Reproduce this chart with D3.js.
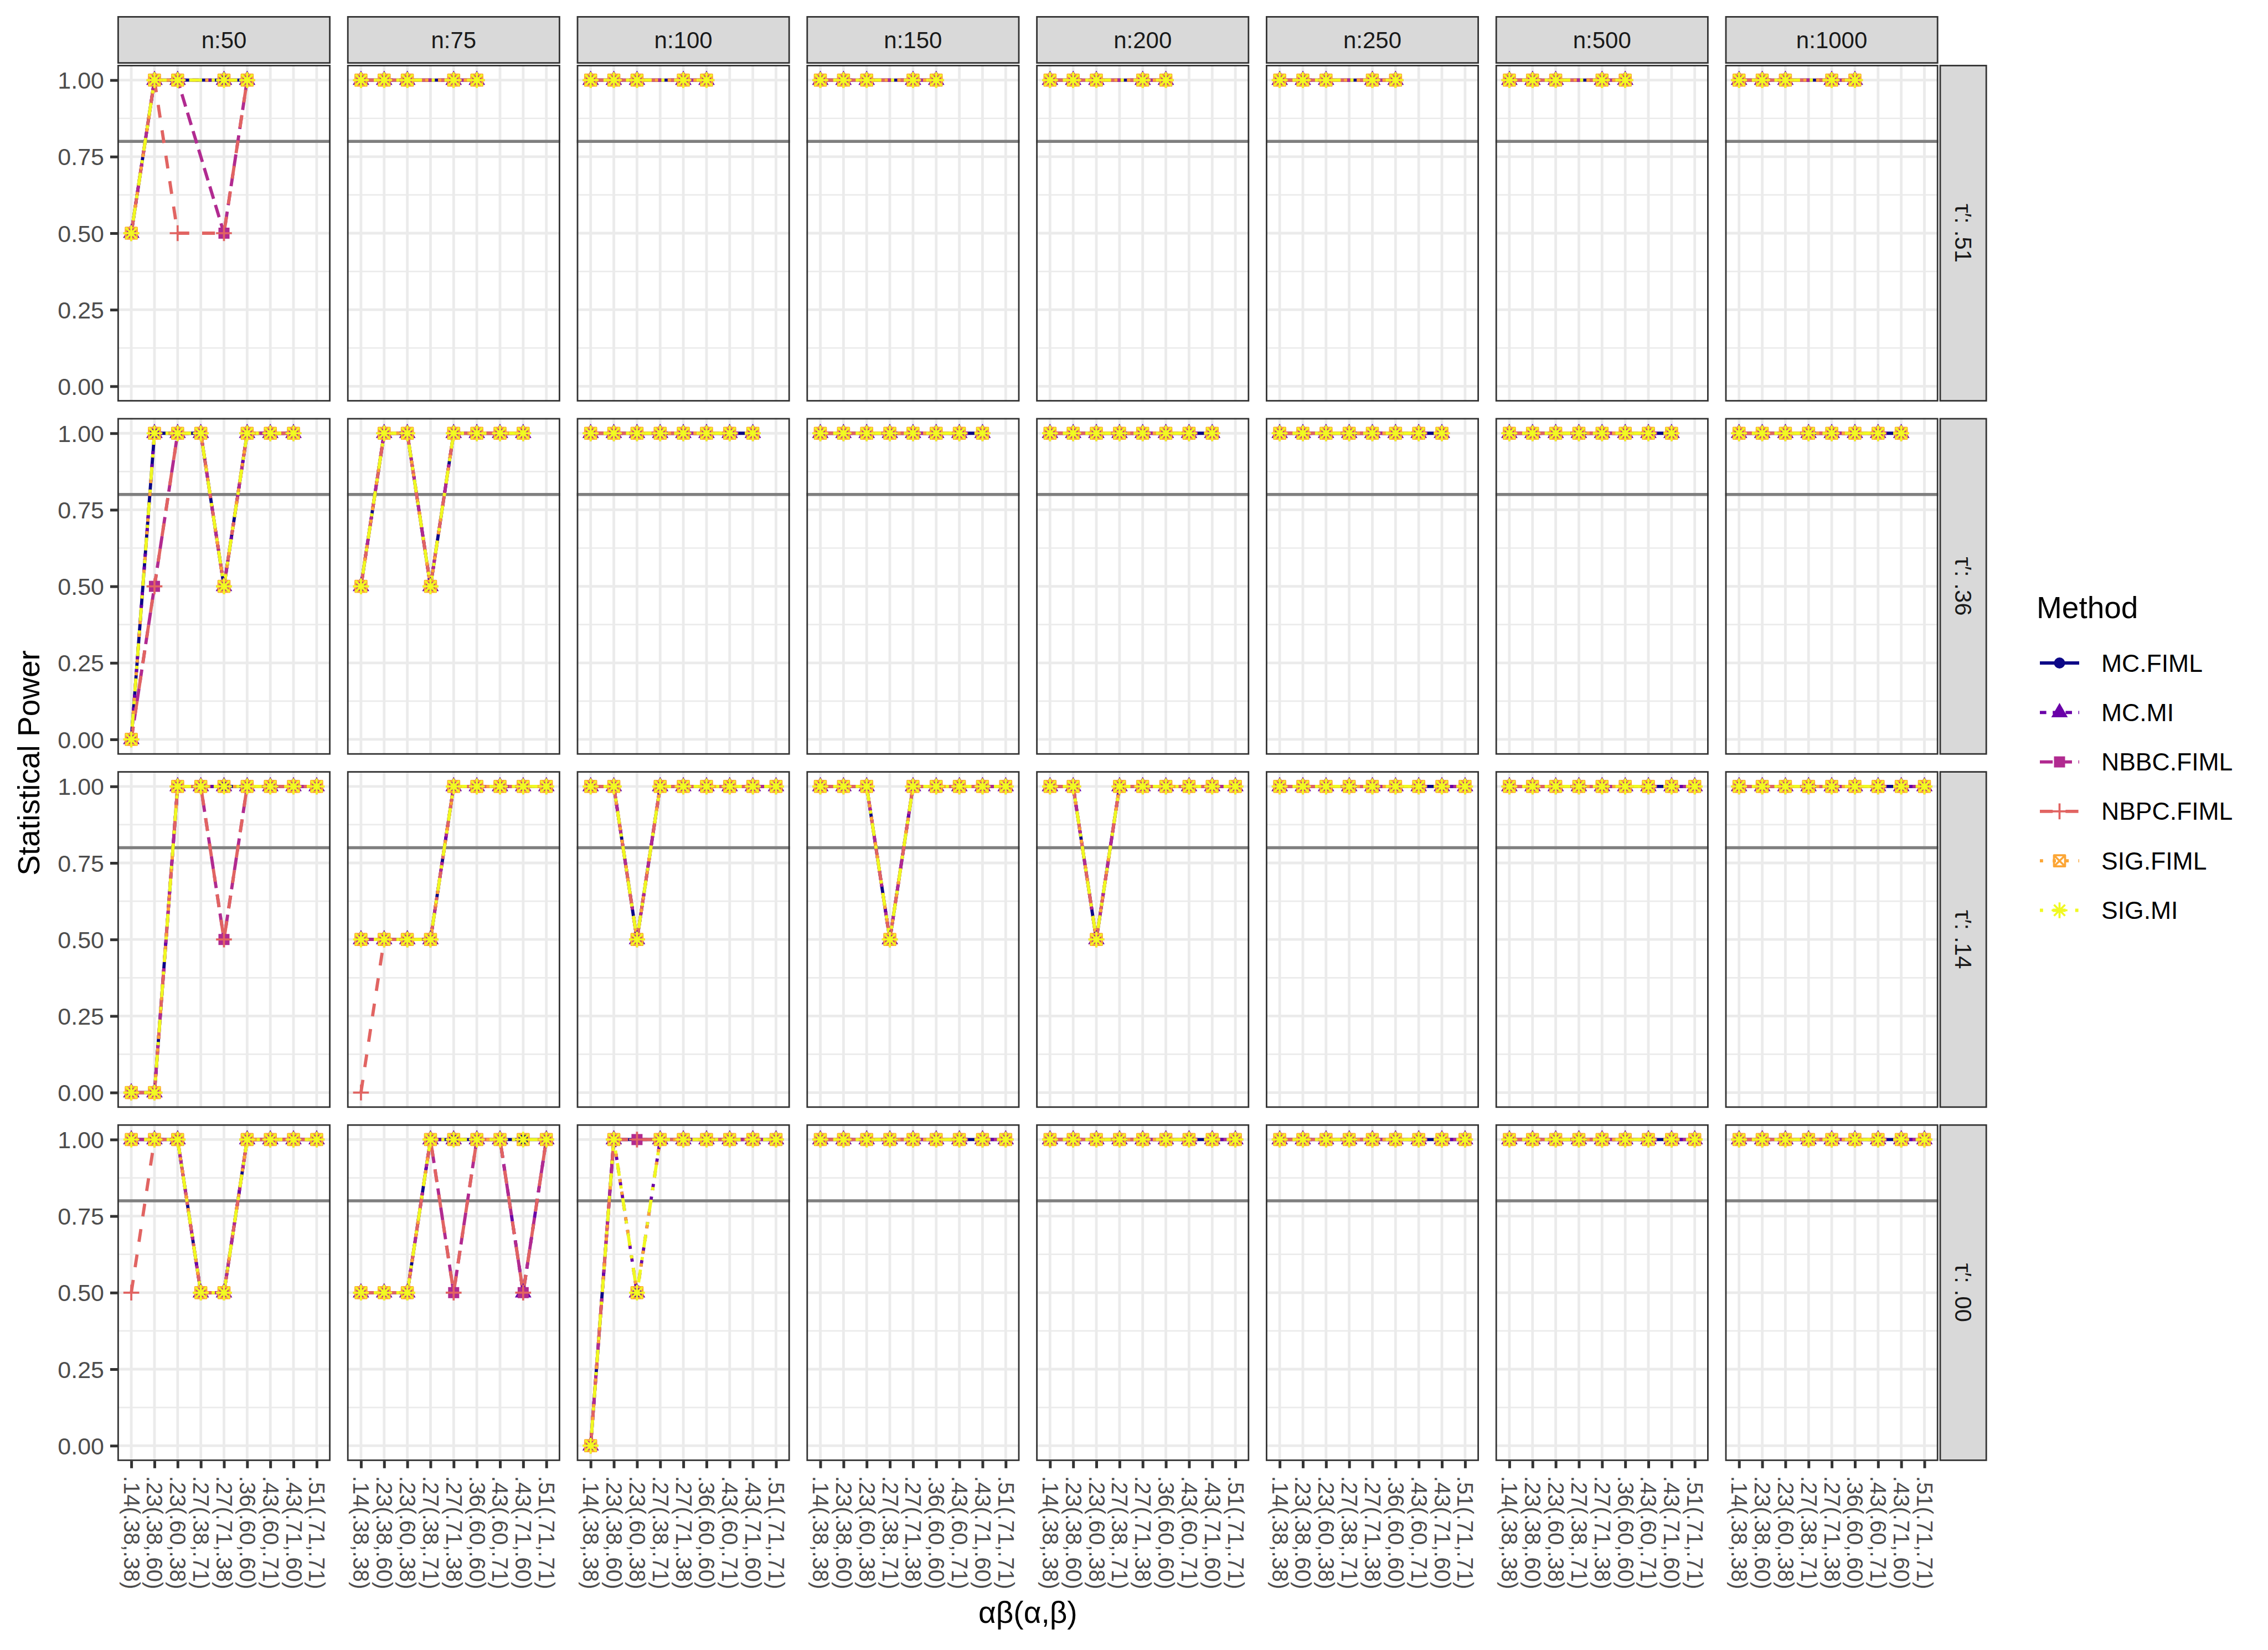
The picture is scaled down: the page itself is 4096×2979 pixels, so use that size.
<!DOCTYPE html>
<html><head><meta charset="utf-8">
<script src="https://cdn.jsdelivr.net/npm/d3@7"></script>
<style>body{margin:0;background:#fff}svg{display:block}text{font-family:"Liberation Sans",Arial,Helvetica,sans-serif}</style>
</head><body>
<script>
// ---------------- data ----------------
const categories = [".14(.38,.38)", ".23(.38,.60)", ".23(.60,.38)", ".27(.38,.71)", ".27(.71,.38)",
                    ".36(.60,.60)", ".43(.60,.71)", ".43(.71,.60)", ".51(.71,.71)"];
const sampleSizes = ["n:50", "n:75", "n:100", "n:150", "n:200", "n:250", "n:500", "n:1000"];
const tauLabels = ["τ′: .51", "τ′: .36", "τ′: .14", "τ′: .00"];
const methods = ["MC.FIML", "MC.MI", "NBBC.FIML", "NBPC.FIML", "SIG.FIML", "SIG.MI"];
const methodColors = ["#0D0887", "#6A00A8", "#B12A90", "#E16462", "#FCA636", "#F0F921"];
const yTicks = [0, 0.25, 0.5, 0.75, 1];
const yMinor = [0.125, 0.375, 0.625, 0.875];
const powerThreshold = 0.8;

// statistical power, one string per τ′ row; one 9-character block per n (n:50 ... n:1000),
// one character per αβ(α,β) category: 1 = 1.00, h = 0.50, 0 = 0.00, - = condition not present
const powerMCFIML = [
  "h11-11--- 111-11--- 111-11--- 111-11--- 111-11--- 111-11--- 111-11--- 111-11---",
  "0111h111- h11h1111- 11111111- 11111111- 11111111- 11111111- 11111111- 11111111-",
  "001111111 hhhh11111 11h111111 111h11111 11h111111 111111111 111111111 111111111",
  "111hh1111 hhh111111 011111111 111111111 111111111 111111111 111111111 111111111"
];
const powerMCMI = [
  "h11-11--- 111-11--- 111-11--- 111-11--- 111-11--- 111-11--- 111-11--- 111-11---",
  "0111h111- h11h1111- 11111111- 11111111- 11111111- 11111111- 11111111- 11111111-",
  "001111111 hhhh11111 11h111111 111h11111 11h111111 111111111 111111111 111111111",
  "111hh1111 hhh1111h1 01h111111 111111111 111111111 111111111 111111111 111111111"
];
const powerNBBCFIML = [
  "h11-h1--- 111-11--- 111-11--- 111-11--- 111-11--- 111-11--- 111-11--- 111-11---",
  "0h11h111- h11h1111- 11111111- 11111111- 11111111- 11111111- 11111111- 11111111-",
  "0011h1111 hhhh11111 11h111111 111h11111 11h111111 111111111 111111111 111111111",
  "111hh1111 hhh1h11h1 011111111 111111111 111111111 111111111 111111111 111111111"
];
const powerNBPCFIML = [
  "h1h-h1--- 111-11--- 111-11--- 111-11--- 111-11--- 111-11--- 111-11--- 111-11---",
  "0h11h111- h11h1111- 11111111- 11111111- 11111111- 11111111- 11111111- 11111111-",
  "0011h1111 0hhh11111 11h111111 111h11111 11h111111 111111111 111111111 111111111",
  "h11hh1111 hhh1h11h1 011111111 111111111 111111111 111111111 111111111 111111111"
];
const powerSIGFIML = [
  "h11-11--- 111-11--- 111-11--- 111-11--- 111-11--- 111-11--- 111-11--- 111-11---",
  "0111h111- h11h1111- 11111111- 11111111- 11111111- 11111111- 11111111- 11111111-",
  "001111111 hhhh11111 11h111111 111h11111 11h111111 111111111 111111111 111111111",
  "111hh1111 hhh111111 01h111111 111111111 111111111 111111111 111111111 111111111"
];
const powerSIGMI = [
  "h11-11--- 111-11--- 111-11--- 111-11--- 111-11--- 111-11--- 111-11--- 111-11---",
  "0111h111- h11h1111- 11111111- 11111111- 11111111- 11111111- 11111111- 11111111-",
  "001111111 hhhh11111 11h111111 111h11111 11h111111 111111111 111111111 111111111",
  "111hh1111 hhh111111 01h111111 111111111 111111111 111111111 111111111 111111111"
];

// ---------------- build ----------------
const code = {"1": 1, "h": 0.5, "0": 0};
const parseRow = s => s.trim().split(/\s+/).map(b => b.split("").map(ch => ch === "-" ? null : code[ch]));
const power = [powerMCFIML, powerMCMI, powerNBBCFIML, powerNBPCFIML, powerSIGFIML, powerSIGMI]
  .map(rows => rows.map(parseRow)); // [method][row][col][cat]

const W = 4096, H = 2979;
const L = {left: 212, top: 117, pw: 385, ph: 608, px: 414.8, py: 637.6};
const LW = 5.8;                      // data line width
const dashes = [null, [2, 2], [4, 2], [4, 4], [1, 3], [1, 3, 4, 3]].map(d => d ? d.map(v => v * LW).join(",") : null);
const FS_AXY = 43, FS_AXX = 40, FS_STRIP = 42, FS_TITLE = 55, FS_LEG = 44.5;

const svg = d3.select("body").append("svg").attr("width", W).attr("height", H);
svg.append("rect").attr("width", W).attr("height", H).attr("fill", "#fff");

const x = d3.scalePoint().domain(categories).range([0, L.pw]).padding(0.6);
const y = d3.scaleLinear().domain([-0.05, 1.05]).range([L.ph, 0]);

function drawShape(g, k, color, cx, cy) {
  const sw = 3.7;
  if (k === 0) {
    g.append("circle").attr("cx", cx).attr("cy", cy).attr("r", 10).attr("fill", color);
  } else if (k === 1) {
    g.append("path").attr("d", `M${cx},${cy - 15.7}L${cx + 13.6},${cy + 7.85}L${cx - 13.6},${cy + 7.85}Z`)
      .attr("fill", color).attr("stroke", color).attr("stroke-width", 1.5);
  } else if (k === 2) {
    g.append("rect").attr("x", cx - 10).attr("y", cy - 10).attr("width", 20).attr("height", 20).attr("fill", color);
  } else if (k === 3) {
    const a = 14.3;
    g.append("path").attr("d", `M${cx - a},${cy}H${cx + a}M${cx},${cy - a}V${cy + a}`)
      .attr("stroke", color).attr("stroke-width", sw).attr("fill", "none");
  } else if (k === 4) {
    const a = 10;
    g.append("path").attr("d", `M${cx - a},${cy - a}H${cx + a}V${cy + a}H${cx - a}ZM${cx - a},${cy - a}L${cx + a},${cy + a}M${cx - a},${cy + a}L${cx + a},${cy - a}`)
      .attr("stroke", color).attr("stroke-width", sw).attr("fill", "none").attr("stroke-linejoin", "round");
  } else {
    const a = 14.3, b = 10;
    g.append("path").attr("d", `M${cx - a},${cy}H${cx + a}M${cx},${cy - a}V${cy + a}M${cx - b},${cy - b}L${cx + b},${cy + b}M${cx - b},${cy + b}L${cx + b},${cy - b}`)
      .attr("stroke", color).attr("stroke-width", sw).attr("fill", "none");
  }
}

const line = d3.line().x(d => x(d.cat)).y(d => y(d.v));

tauLabels.forEach((tau, r) => {
  sampleSizes.forEach((n, c) => {
    const gx = L.left + c * L.px, gy = L.top + r * L.py;
    const g = svg.append("g").attr("transform", `translate(${gx},${gy})`);
    g.append("rect").attr("width", L.pw).attr("height", L.ph).attr("fill", "#fff");
    g.selectAll(".minor").data(yMinor).join("line")
      .attr("x1", 0).attr("x2", L.pw).attr("y1", d => y(d)).attr("y2", d => y(d))
      .attr("stroke", "#EBEBEB").attr("stroke-width", 2.7);
    g.selectAll(".majy").data(yTicks).join("line")
      .attr("x1", 0).attr("x2", L.pw).attr("y1", d => y(d)).attr("y2", d => y(d))
      .attr("stroke", "#EBEBEB").attr("stroke-width", 4.8);
    g.selectAll(".majx").data(categories).join("line")
      .attr("x1", d => x(d)).attr("x2", d => x(d)).attr("y1", 0).attr("y2", L.ph)
      .attr("stroke", "#EBEBEB").attr("stroke-width", 4.8);
    g.append("line").attr("x1", 0).attr("x2", L.pw).attr("y1", y(powerThreshold)).attr("y2", y(powerThreshold))
      .attr("stroke", "#7F7F7F").attr("stroke-width", 5.5);

    const series = methods.map((m, k) => power[k][r][c]
      .map((v, i) => ({cat: categories[i], v}))
      .filter(d => d.v !== null));
    series.forEach((pts, k) => {
      const p = g.append("path").attr("d", line(pts)).attr("fill", "none")
        .attr("stroke", methodColors[k]).attr("stroke-width", LW)
        .attr("stroke-linecap", "butt").attr("stroke-linejoin", "round");
      if (dashes[k]) p.attr("stroke-dasharray", dashes[k]);
    });
    series.forEach((pts, k) => {
      pts.forEach(d => drawShape(g, k, methodColors[k], x(d.cat), y(d.v)));
    });
    g.append("rect").attr("x", 1.4).attr("y", 1.4).attr("width", L.pw - 2.8).attr("height", L.ph - 2.8)
      .attr("fill", "none").attr("stroke", "#333333").attr("stroke-width", 2.8);

    // y axis on first column
    if (c === 0) {
      const ax = g.append("g").call(d3.axisLeft(y).tickValues(yTicks).tickFormat(d3.format(".2f")).tickSize(13).tickPadding(11));
      ax.select(".domain").remove();
      ax.selectAll(".tick line").attr("stroke", "#333333").attr("stroke-width", 5);
      ax.selectAll(".tick text").attr("font-size", FS_AXY).attr("fill", "#4D4D4D")
        .attr("font-family", "Liberation Sans, Arial, sans-serif").attr("dy", "0.35em");
    }
    // x axis on last row
    if (r === tauLabels.length - 1) {
      const ax = g.append("g").attr("transform", `translate(0,${L.ph})`)
        .call(d3.axisBottom(x).tickSize(13).tickPadding(11));
      ax.select(".domain").remove();
      ax.selectAll(".tick line").attr("stroke", "#333333").attr("stroke-width", 5);
      ax.selectAll(".tick text").attr("font-size", FS_AXX).attr("fill", "#4D4D4D")
        .attr("font-family", "Liberation Sans, Arial, sans-serif")
        .attr("transform", "rotate(90)").attr("x", 27).attr("y", 0).attr("dy", "0.35em")
        .attr("text-anchor", "start");
    }
    // top strips
    if (r === 0) {
      const s = svg.append("g").attr("transform", `translate(${gx},${gy - 88})`);
      s.append("rect").attr("x", 1.4).attr("y", 1.4).attr("width", L.pw - 2.8).attr("height", 86 - 2.8)
        .attr("fill", "#D9D9D9").attr("stroke", "#333333").attr("stroke-width", 2.8);
      s.append("text").attr("x", L.pw / 2).attr("y", 43).attr("dy", "0.35em").attr("text-anchor", "middle")
        .attr("font-size", FS_STRIP).attr("fill", "#1A1A1A").text(n);
    }
    // right strips
    if (c === sampleSizes.length - 1) {
      const s = svg.append("g").attr("transform", `translate(${gx + L.pw + 2},${gy})`);
      s.append("rect").attr("x", 1.4).attr("y", 1.4).attr("width", 86 - 2.8).attr("height", L.ph - 2.8)
        .attr("fill", "#D9D9D9").attr("stroke", "#333333").attr("stroke-width", 2.8);
      s.append("text").attr("transform", `translate(43,${L.ph / 2}) rotate(90)`).attr("dy", "0.35em")
        .attr("text-anchor", "middle").attr("font-size", FS_STRIP).attr("fill", "#1A1A1A").text(tau);
    }
  });
});

// axis titles
const plotRight = L.left + 7 * L.px + L.pw;
const plotBottom = L.top + 3 * L.py + L.ph;
svg.append("text").attr("x", (L.left + plotRight) / 2).attr("y", 2930).attr("text-anchor", "middle")
  .attr("font-size", FS_TITLE).attr("fill", "#000").text("αβ(α,β)");
svg.append("text").attr("transform", `translate(71,${(L.top + plotBottom) / 2}) rotate(-90)`)
  .attr("text-anchor", "middle").attr("font-size", FS_TITLE).attr("fill", "#000").text("Statistical Power");

// legend
const leg = svg.append("g");
leg.append("text").attr("x", 3678).attr("y", 1097).attr("dy", "0.35em").attr("font-size", FS_TITLE)
  .attr("fill", "#000").text("Method");
methods.forEach((m, k) => {
  const yy = 1197 + k * 89.3;
  const p = leg.append("line").attr("x1", 3684).attr("x2", 3755).attr("y1", yy).attr("y2", yy)
    .attr("stroke", methodColors[k]).attr("stroke-width", LW).attr("stroke-linecap", "butt");
  if (dashes[k]) p.attr("stroke-dasharray", dashes[k]);
  drawShape(leg, k, methodColors[k], 3719.5, yy);
  leg.append("text").attr("x", 3795).attr("y", yy).attr("dy", "0.35em").attr("font-size", FS_LEG)
    .attr("fill", "#000").text(m);
});
</script>
</body></html>
